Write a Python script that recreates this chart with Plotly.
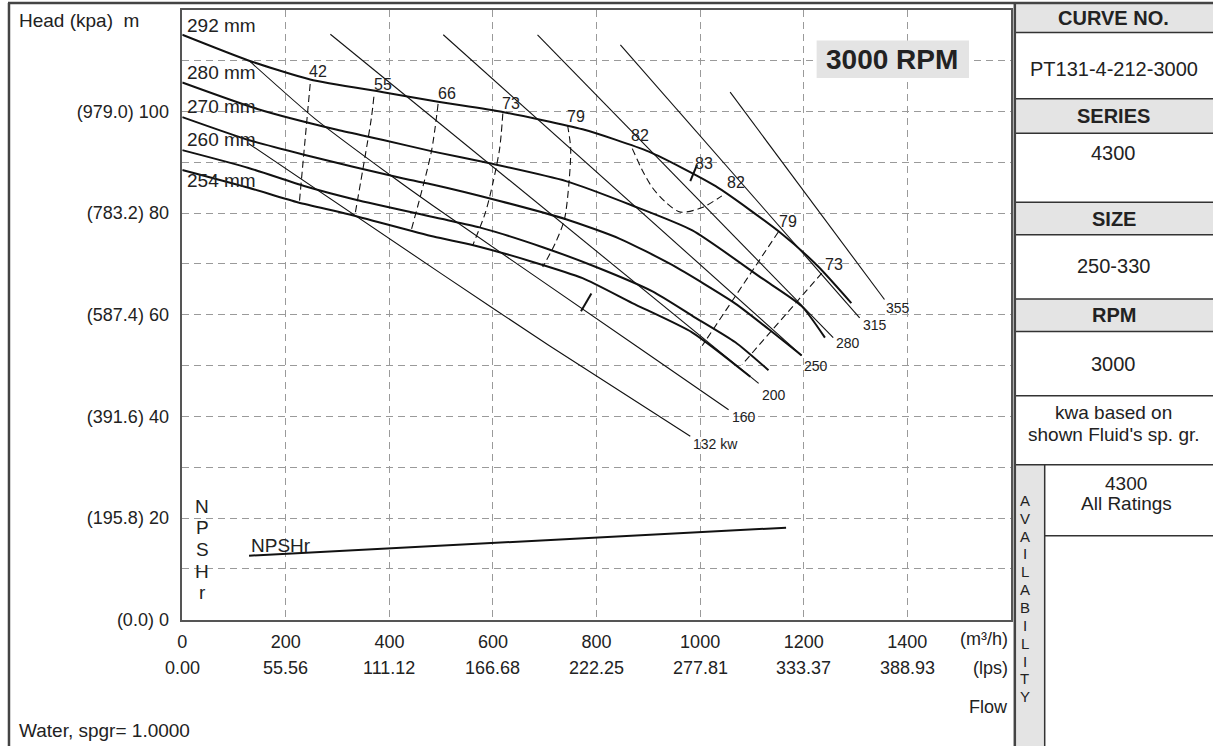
import plotly.graph_objects as go

W, H = 1213, 756

# ---------------- data ----------------
flow_ticks = [0, 200, 400, 600, 800, 1000, 1200, 1400]
flow_tick_text = ["0", "200", "400", "600", "800", "1000", "1200", "1400"]
lps_tick_text = ["0.00", "55.56", "111.12", "166.68", "222.25", "277.81", "333.37", "388.93"]
head_ticks = [0, 20, 40, 60, 80, 100]
head_tick_text = ["(0.0) 0", "(195.8) 20", "(391.6) 40", "(587.4) 60", "(783.2) 80", "(979.0) 100"]

# impeller head curves (flow m3/h, head m)
imp_names = ["292 mm", "280 mm", "270 mm", "260 mm", "254 mm"]
q_292 = [0, 129, 247, 388, 494, 619, 773, 901, 1030, 1158, 1228, 1292]
h_292 = [115.1, 110.0, 106.3, 103.8, 101.9, 99.9, 96.5, 92.1, 85.3, 75.9, 69.5, 62.3]
q_280 = [0, 145, 299, 388, 485, 594, 741, 869, 985, 1119, 1196, 1241]
h_280 = [105.7, 100.5, 96.4, 94.4, 92.1, 89.8, 86.3, 81.5, 76.6, 67.2, 61.7, 55.5]
q_270 = [0, 128, 235, 427, 485, 613, 741, 844, 946, 1068, 1132, 1196]
h_270 = [98.9, 94.4, 91.5, 86.8, 85.6, 82.4, 78.8, 75.0, 69.8, 62.2, 57.2, 52.0]
q_260 = [0, 128, 237, 333, 500, 574, 696, 799, 908, 985, 1068, 1132]
h_260 = [92.4, 88.9, 85.3, 82.7, 78.9, 77.2, 73.3, 69.4, 64.6, 59.8, 54.6, 49.1]
q_254 = [0, 128, 224, 321, 485, 562, 677, 773, 869, 985, 1097]
h_254 = [88.5, 85.0, 82.1, 79.8, 75.4, 73.7, 70.4, 67.2, 62.3, 56.5, 47.8]

# power lines (kW)
kw_names = ["132 kw", "160", "200", "250", "280", "315", "355"]
q_kw132 = [128, 500, 709, 981]
h_kw132 = [93.7, 68.1, 53.9, 36.1]
q_kw160 = [129, 256, 404, 485, 876, 1055]
h_kw160 = [110.0, 98.6, 87.3, 81.4, 53.9, 41.3]
q_kw200 = [286, 1113]
h_kw200 = [115.2, 46.5]
q_kw250 = [504, 1196]
h_kw250 = [115.1, 52.0]
q_kw280 = [686, 1257]
h_kw280 = [115.1, 55.5]
q_kw315 = [846, 1308]
h_kw315 = [113.1, 59.4]
q_kw355 = [1058, 1356]
h_kw355 = [103.8, 63.0]

# iso-efficiency lines (%)
eff_names = ["42", "55", "66", "73", "79", "82", "82", "79", "73"]
q_e42 = [247, 226]
h_e42 = [105.4, 82.0]
q_e55 = [370, 365, 333]
h_e55 = [102.9, 98.6, 79.4]
q_e66 = [494, 481, 442]
h_e66 = [101.5, 92.1, 76.6]
q_e73 = [619, 613, 600, 585, 561]
h_e73 = [99.6, 92.8, 86.0, 80.0, 73.7]
q_e79 = [744, 750, 747, 738, 720, 696]
h_e79 = [97.3, 92.8, 86.3, 78.8, 74.0, 69.4]
q_e82 = [869, 888, 908, 935, 962, 1004, 1042]
h_e82 = [92.7, 88.5, 85.0, 82.0, 80.2, 81.1, 83.4]
q_e79r = [1151, 1004]
h_e79r = [76.3, 53.9]
q_e73r = [1235, 1081]
h_e73r = [68.2, 50.2]

# best efficiency point marker (83 %) and cut mark
q_bep = [994, 981]
h_bep = [89.5, 86.3]
q_mark = [770, 790]
h_mark = [60.7, 64.2]

# NPSH required
q_npsh = [129, 1166]
h_npsh = [12.6, 18.1]

# ---------------- figure ----------------
FONT = "Liberation Sans, Arial, sans-serif"
TXT = "#222222"
LINE = "#111111"

def PX(x):
    return x / W

def PY(y):
    return 1 - y / H

fig = go.Figure()

for q, h in [(q_292, h_292), (q_280, h_280), (q_270, h_270), (q_260, h_260), (q_254, h_254)]:
    fig.add_trace(go.Scatter(x=q, y=h, mode="lines", line=dict(color=LINE, width=2, shape="spline", smoothing=0.6),
                             hoverinfo="skip", showlegend=False))

for q, h in [(q_kw132, h_kw132), (q_kw160, h_kw160), (q_kw200, h_kw200), (q_kw250, h_kw250),
             (q_kw280, h_kw280), (q_kw315, h_kw315), (q_kw355, h_kw355)]:
    fig.add_trace(go.Scatter(x=q, y=h, mode="lines", line=dict(color=LINE, width=1.1, shape="spline", smoothing=0.6),
                             hoverinfo="skip", showlegend=False))

for q, h in [(q_e42, h_e42), (q_e55, h_e55), (q_e66, h_e66), (q_e73, h_e73), (q_e79, h_e79),
             (q_e82, h_e82), (q_e79r, h_e79r), (q_e73r, h_e73r)]:
    fig.add_trace(go.Scatter(x=q, y=h, mode="lines",
                             line=dict(color=LINE, width=1.1, dash="7px,4px", shape="spline", smoothing=0.8),
                             hoverinfo="skip", showlegend=False))

for q, h in [(q_bep, h_bep), (q_mark, h_mark)]:
    fig.add_trace(go.Scatter(x=q, y=h, mode="lines", line=dict(color=LINE, width=2),
                             hoverinfo="skip", showlegend=False))

fig.add_trace(go.Scatter(x=q_npsh, y=h_npsh, mode="lines", line=dict(color=LINE, width=2),
                         hoverinfo="skip", showlegend=False))

ann = []

def text(x, y, s, size=19, xanchor="center", bold=False, xref="paper", yref="paper", color=TXT):
    ann.append(dict(x=x, y=y, xref=xref, yref=yref, text=("<b>%s</b>" % s) if bold else s,
                    showarrow=False, xanchor=xanchor, yanchor="middle",
                    font=dict(family=FONT, size=size, color=color)))

# impeller size labels
for name, yv in zip(imp_names, [116.9, 107.6, 100.9, 94.4, 86.4]):
    text(PX(181), yv, name, size=19, xanchor="left", yref="y")

# kW labels
kw_lab_pos = [(983, 34.5), (1057, 39.8), (1115, 44.3), (1196, 50.0), (1259, 54.4), (1310, 58.0), (1356, 61.3)]
for name, (xv, yv) in zip(kw_names, kw_lab_pos):
    text(xv, yv, name, size=14, xanchor="left", xref="x", yref="y")

# efficiency labels
eff_lab_pos = [(263, 107.8), (388, 105.4), (511, 103.6), (635, 101.6), (760, 99.0), (883, 95.3),
               (1069, 86.0), (1170, 78.3), (1258, 69.9)]
for name, (xv, yv) in zip(eff_names, eff_lab_pos):
    text(xv, yv, name, size=16, xref="x", yref="y")
text(1007, 89.8, "83", size=16, xref="x", yref="y")

# NPSHr
text(129, 14.6, "NPSHr", size=19, xanchor="left", xref="x", yref="y")
for ch, yy in zip("NPSHr", [513, 535, 557, 579, 600]):
    text(PX(198), PY(yy), ch, size=19)

# lps row
for xv, s in zip(flow_ticks, lps_tick_text):
    text(xv, PY(677), s, size=18, xref="x")
text(PX(1009), PY(648), "(m³/h)", size=18, xanchor="right")
text(PX(1009), PY(677), "(lps)", size=18, xanchor="right")
text(PX(1009), PY(716), "Flow", size=18, xanchor="right")

text(PX(12), PY(21), "Head (kpa)\u00a0\u00a0m", size=19, xanchor="left")
text(PX(12), PY(740), "Water, spgr= 1.0000", size=19, xanchor="left")

# 3000 RPM box
text(PX(891), PY(60), "3000 RPM", size=28, bold=True)

# right panel
cx = PX(1113.5)
text(cx, PY(18), "CURVE NO.", size=20, bold=True)
text(cx, PY(70), "PT131-4-212-3000", size=20)
text(cx, PY(118), "SERIES", size=20, bold=True)
text(cx, PY(155), "4300", size=20)
text(cx, PY(222), "SIZE", size=20, bold=True)
text(cx, PY(270), "250-330", size=20)
text(cx, PY(319), "RPM", size=20, bold=True)
text(cx, PY(369), "3000", size=20)
text(cx, PY(418), "kwa based on", size=19)
text(cx, PY(440), "shown Fluid's sp. gr.", size=19)
text(PX(1126), PY(490), "4300", size=19)
text(PX(1126), PY(510), "All Ratings", size=19)
for i, ch in enumerate("AVAILABILITY"):
    text(PX(1024), PY(507 + i * 18.1), ch, size=15)

shapes = []
GRAY = "#e4e4e4"
FR = "#333333"

def rect(x0, y0, x1, y1, fill, layer="above"):
    shapes.append(dict(type="rect", xref="paper", yref="paper", x0=PX(x0), x1=PX(x1), y0=PY(y1), y1=PY(y0),
                       fillcolor=fill, line=dict(width=0), layer=layer))

def hline(x0, x1, y, w=1.5, c=FR):
    shapes.append(dict(type="line", xref="paper", yref="paper", x0=PX(x0), x1=PX(x1), y0=PY(y), y1=PY(y),
                       line=dict(color=c, width=w)))

def vline(x, y0, y1, w=1.5, c=FR):
    shapes.append(dict(type="line", xref="paper", yref="paper", x0=PX(x), x1=PX(x), y0=PY(y0), y1=PY(y1),
                       line=dict(color=c, width=w)))

rect(815, 41, 968, 79, GRAY)
for (a, b) in [(3, 33), (100, 135), (205, 238), (303, 336)]:
    rect(1014, a, 1213, b, GRAY)
    hline(1014, 1213, a)
    hline(1014, 1213, b)
rect(1014, 471, 1044, 756, GRAY)
hline(1014, 1213, 401)
hline(1014, 1213, 471)
hline(1044, 1213, 543)
vline(1044, 471, 756)

# outer frame
hline(3, 1213, 3, w=2.5, c="#444444")
vline(4, 3, 756, w=2.5, c="#444444")
vline(1014, 3, 756, w=2.5, c="#444444")

grid = dict(showgrid=True, gridcolor="#9a9a9a", gridwidth=1, griddash="7px,5px")

fig.update_layout(
    width=W, height=H, autosize=False,
    margin=dict(l=0, r=0, t=0, b=0),
    paper_bgcolor="white", plot_bgcolor="white",
    showlegend=False,
    font=dict(family=FONT, size=18, color=TXT),
    annotations=ann, shapes=shapes,
    xaxis=dict(domain=[PX(178), PX(1010)], range=[0, 1600], tickmode="array", tickvals=flow_ticks,
               ticktext=flow_tick_text, tickfont=dict(size=18, color=TXT), ticks="", zeroline=False,
               showline=True, mirror=True, linecolor="#555555", linewidth=1.5, fixedrange=True,
               ticklabelstandoff=5, **grid),
    yaxis=dict(domain=[PY(628), PY(10)], range=[0, 120], tickmode="array", tickvals=head_ticks,
               ticktext=head_tick_text, tickfont=dict(size=18, color=TXT), ticks="", zeroline=False,
               showline=True, mirror=True, linecolor="#555555", linewidth=1.5, fixedrange=True,
               ticklabelstandoff=8,
               minor=dict(tickvals=[10, 30, 50, 70, 90, 110], ticks="", showgrid=True, gridcolor="#9a9a9a",
                          gridwidth=1, griddash="7px,5px"),
               **grid),
)

fig.write_html("out.html", config={"displayModeBar": False},
               post_script="document.body.style.margin='0';document.body.style.overflow='hidden';")
